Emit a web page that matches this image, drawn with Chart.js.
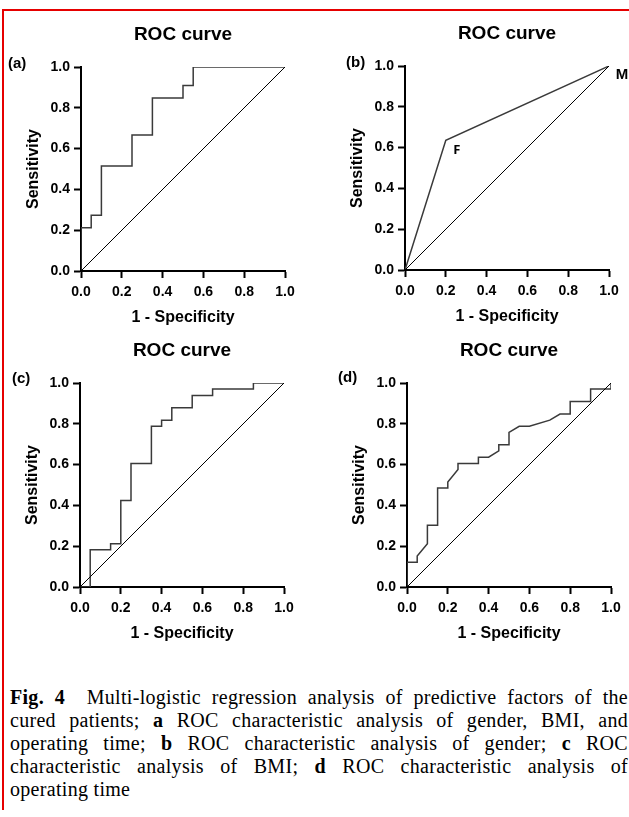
<!DOCTYPE html>
<html><head><meta charset="utf-8">
<script src="https://cdn.jsdelivr.net/npm/chart.js@4.4.0/dist/chart.umd.min.js"></script>
<style>
html,body{margin:0;padding:0;background:#fff;width:629px;height:817px;overflow:hidden;position:relative;}
.frame{position:absolute;left:2px;top:9px;width:640px;height:799px;border-left:2px solid #e60000;border-top:2px solid #e60000;}
canvas{position:absolute;}
.lbl{position:absolute;font:bold 15px 'Liberation Sans',Arial,sans-serif;color:#000;line-height:1;}
.cap{position:absolute;left:10px;top:686px;width:618px;font:20px 'Liberation Serif','Times New Roman',serif;letter-spacing:0.3px;line-height:23px;color:#000;}
.cap div{text-align:justify;text-align-last:justify;white-space:nowrap;}
.cap div.last{text-align-last:left;}
</style></head>
<body>
<div class="frame"></div>
<canvas id="ca" width="304" height="318" style="left:1px;top:13px"></canvas>
<canvas id="cb" width="304" height="318" style="left:325px;top:12px"></canvas>
<canvas id="cc" width="304" height="318" style="left:0px;top:329px"></canvas>
<canvas id="cd" width="304" height="318" style="left:327px;top:329px"></canvas>
<div class="lbl" style="left:8px;top:55px">(a)</div>
<div class="lbl" style="left:346px;top:54px">(b)</div>
<div class="lbl" style="left:12px;top:370px">(c)</div>
<div class="lbl" style="left:338px;top:369px">(d)</div>
<div class="cap">
<div><b>Fig. 4</b>&nbsp; Multi-logistic regression analysis of predictive factors of the</div>
<div>cured patients; <b>a</b> ROC characteristic analysis of gender, BMI, and</div>
<div>operating time; <b>b</b> ROC characteristic analysis of gender; <b>c</b> ROC</div>
<div>characteristic analysis of BMI; <b>d</b> ROC characteristic analysis of</div>
<div class="last">operating time</div>
</div>
<script>
// ---- data ----
const tickLabels = ['0.0','0.2','0.4','0.6','0.8','1.0'];
const chartTitle = 'ROC curve';
const xAxisTitle = '1 - Specificity';
const yAxisTitle = 'Sensitivity';
const diagX = [0, 1];
const diagY = [0, 1];
// (a) gender, BMI and operating time
const aX = [0,0,0.05,0.05,0.1,0.1,0.25,0.25,0.35,0.35,0.5,0.5,0.55,0.55,1];
const aY = [0,0.212,0.212,0.273,0.273,0.515,0.515,0.667,0.667,0.848,0.848,0.909,0.909,1,1];
// (b) gender
const bX = [0,0.2,1];
const bY = [0,0.636,1];
const bPointLabels = ['','F','M'];
// (c) BMI
const cX = [0,0.05,0.05,0.15,0.15,0.2,0.2,0.25,0.25,0.35,0.35,0.4,0.4,0.45,0.45,0.55,0.55,0.65,0.65,0.85,0.85,1];
const cY = [0,0,0.182,0.182,0.212,0.212,0.424,0.424,0.606,0.606,0.788,0.788,0.818,0.818,0.879,0.879,0.939,0.939,0.970,0.970,1,1];
// (d) operating time
const dX = [0,0,0.05,0.05,0.1,0.1,0.15,0.15,0.2,0.2,0.25,0.25,0.35,0.35,0.4,0.45,0.45,0.5,0.5,0.55,0.6,0.7,0.75,0.8,0.8,0.9,0.9,1,1];
const dY = [0,0.121,0.121,0.152,0.212,0.303,0.303,0.485,0.485,0.515,0.576,0.606,0.606,0.636,0.636,0.667,0.697,0.697,0.758,0.788,0.788,0.818,0.848,0.848,0.909,0.909,0.970,0.970,1];

// ---- rendering ----
const SANS = "'Liberation Sans', Arial, sans-serif";
const toPts = (xs, ys) => xs.map((x, i) => ({x: x, y: ys[i]}));

const annotPlugin = {
  id: 'annot',
  afterDatasetsDraw(chart, args, opts) {
    if (!opts || !opts.items) return;
    const ctx = chart.ctx, sx = chart.scales.x, sy = chart.scales.y;
    opts.items.forEach(it => {
      if (!it.text) return;
      ctx.save();
      ctx.font = it.font;
      ctx.fillStyle = '#000';
      ctx.textAlign = 'center';
      ctx.textBaseline = 'middle';
      ctx.fillText(it.text, sx.getPixelForValue(it.x) + it.dx, sy.getPixelForValue(it.y) + it.dy);
      ctx.restore();
    });
  }
};

function axisCommon() {
  return {
    type: 'linear', min: 0, max: 1,
    grid: {drawOnChartArea: false, drawTicks: true, tickLength: 7, tickWidth: 2, tickColor: '#000'},
    border: {display: true, color: '#000', width: 2},
  };
}

function makeChart(id, xs, ys, items) {
  const xAxis = Object.assign(axisCommon(), {
    ticks: {stepSize: 0.2, padding: 6, color: '#000', font: {family: SANS, size: 14, weight: 'bold'},
            maxRotation: 0, callback: (v, i) => tickLabels[i]},
    title: {display: true, text: xAxisTitle, color: '#000', font: {family: SANS, size: 16, weight: 'bold'},
            padding: {top: 0, bottom: 4}},
    afterFit(s) { s.height = 60; }
  });
  const yAxis = Object.assign(axisCommon(), {
    ticks: {stepSize: 0.2, padding: 4, color: '#000', font: {family: SANS, size: 14, weight: 'bold'},
            callback: (v, i) => tickLabels[i]},
    title: {display: true, text: yAxisTitle, color: '#000', font: {family: SANS, size: 16, weight: 'bold'},
            padding: {top: 3.4, bottom: 0}},
    afterFit(s) { s.width = 60; }
  });
  return new Chart(document.getElementById(id), {
    type: 'scatter',
    data: {
      datasets: [
        {data: toPts(diagX, diagY), showLine: true, borderColor: '#000', borderWidth: 1, pointRadius: 0, tension: 0},
        {data: toPts(xs, ys), showLine: true, borderColor: '#3a3a3a', borderWidth: 1.5, pointRadius: 0, tension: 0}
      ]
    },
    options: {
      responsive: false, animation: false, devicePixelRatio: 1,
      layout: {padding: {left: 20, right: 20, top: 0, bottom: 0}},
      scales: {x: xAxis, y: yAxis},
      plugins: {
        legend: {display: false}, tooltip: {enabled: false},
        title: {display: true, text: chartTitle, fullSize: false, color: '#000',
                font: {family: SANS, size: 19, weight: 'bold'}, padding: {top: 10, bottom: 21.2}},
        annot: {items: items || []}
      }
    },
    plugins: [annotPlugin]
  });
}

makeChart('ca', aX, aY);
makeChart('cb', bX, bY, [
  {text: bPointLabels[1], x: bX[1], y: bY[1], dx: 11, dy: 10, font: "bold 13px 'Open Sans', sans-serif"},
  {text: bPointLabels[2], x: bX[2], y: bY[2], dx: 13, dy: 9, font: "bold 15px " + SANS}
]);
makeChart('cc', cX, cY);
makeChart('cd', dX, dY);
</script>
</body></html>
